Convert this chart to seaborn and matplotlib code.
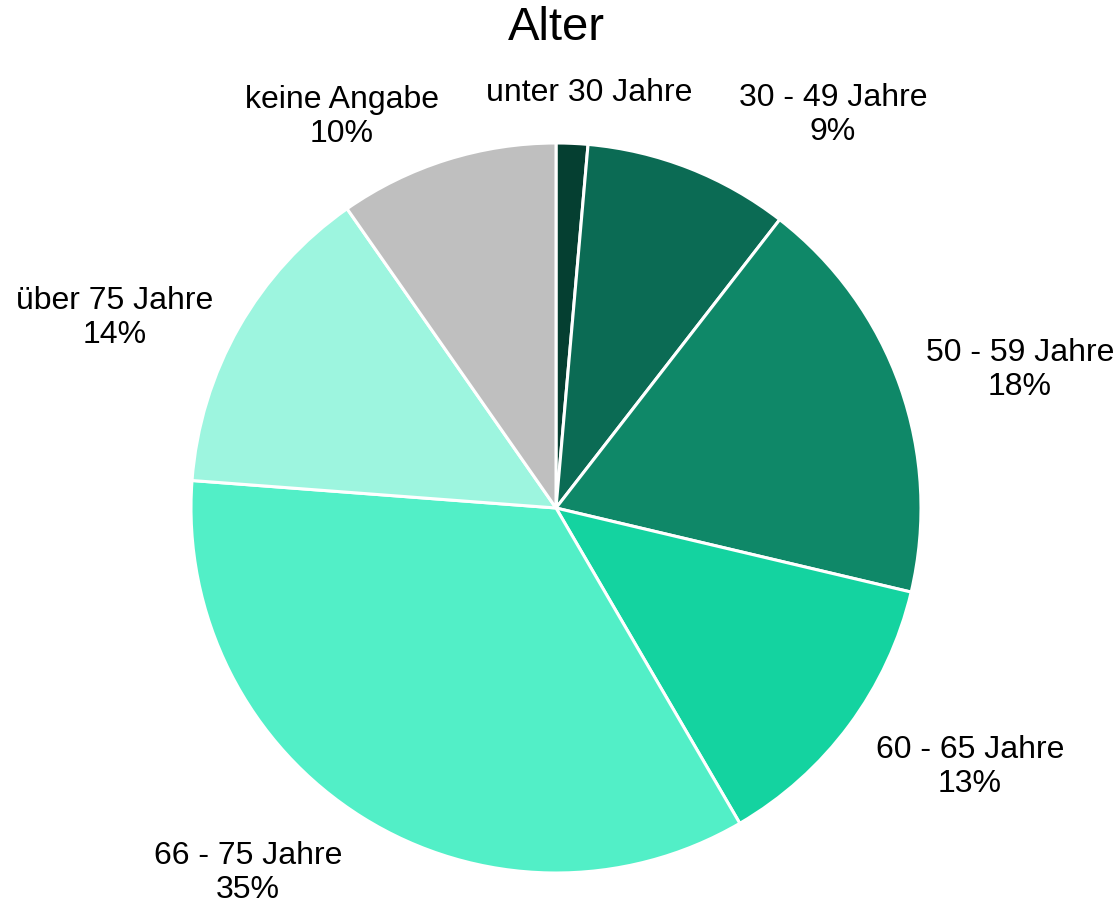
import numpy as np
import matplotlib
matplotlib.use("Agg")
import matplotlib.pyplot as plt
import seaborn as sns

# data (percent)
categories = ["unter 30 Jahre", "30 - 49 Jahre", "50 - 59 Jahre", "60 - 65 Jahre",
              "66 - 75 Jahre", "über 75 Jahre", "keine Angabe"]
shares = [1.4, 9.1, 18.2, 12.9, 34.6, 14.1, 9.7]
show_pct = [False, True, True, True, True, True, True]
colors = ["#053f31", "#0b6b54", "#0f8868", "#14d3a0", "#52efc7", "#9df5df", "#bfbfbf"]

# label centres in units of the pie radius (layout only)
label_pos = [(0.09, 1.137), (0.759, 1.077), (1.271, 0.378), (1.134, -0.709),
             (-0.844, -1.0), (-1.208, 0.521), (-0.586, 1.071)]

sns.set_style("white")
plt.rcParams["font.family"] = ["Liberation Sans", "DejaVu Sans"]

fig = plt.figure(figsize=(11.2, 9.08), dpi=100)
ax = fig.add_axes([0, 0, 1, 1])

wedges, _ = ax.pie(shares, colors=colors, startangle=90, counterclock=False,
                   wedgeprops=dict(edgecolor="white", linewidth=2.2))

for name, val, pct, (x, y) in zip(categories, shares, show_pct, label_pos):
    txt = f"{name}\n{val:.0f}%" if pct else name
    ax.text(x, y, txt, ha="center", va="center", fontsize=23,
            linespacing=1.15, color="black")

ax.text(0, 1.315, "Alter", ha="center", va="center", fontsize=34, color="black")

ax.set_xlim(-556 / 365, (1120 - 556) / 365)
ax.set_ylim(-(908 - 508) / 365, 508 / 365)
ax.set_aspect("auto")
ax.axis("off")

fig.savefig("out.png", dpi=100)
